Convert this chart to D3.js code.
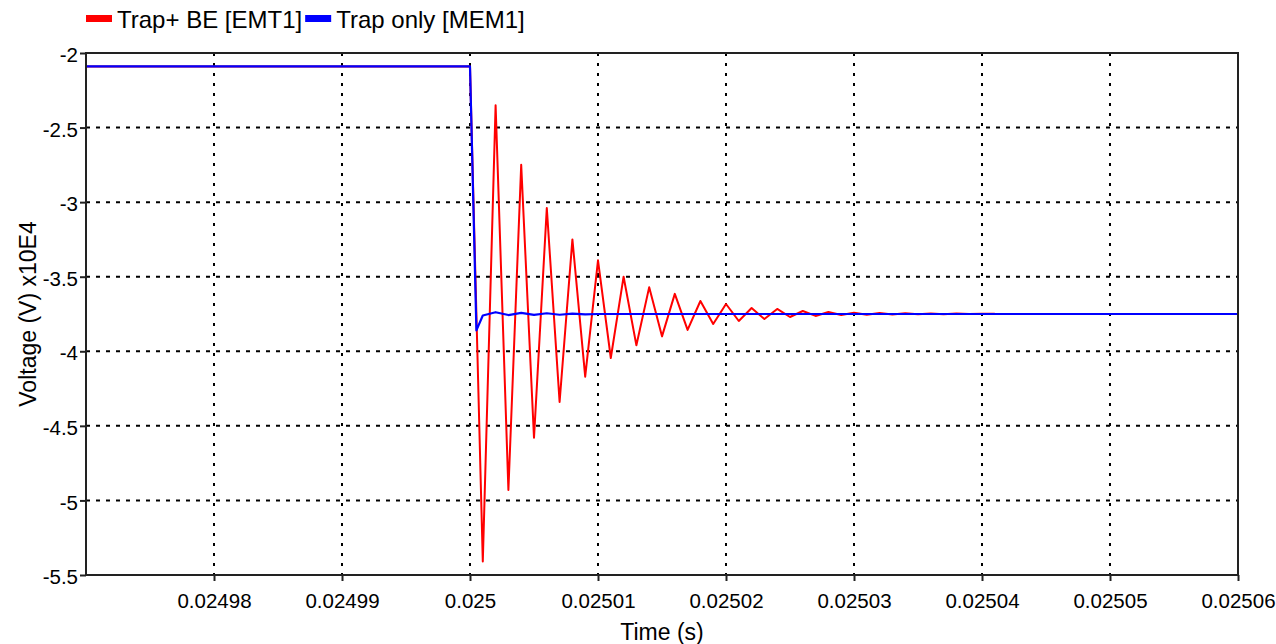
<!DOCTYPE html>
<html>
<head>
<meta charset="utf-8">
<script src="https://cdn.jsdelivr.net/npm/d3@7"></script>
<style>
  body { margin: 0; background: #fff; }
  svg { display: block; font-family: "Liberation Sans", Arial, sans-serif; }
</style>
</head>
<body>
<script>
/* CONSTANTS */
const WIDTH = 1276;
const HEIGHT = 644;
const margin = {top: 53, right: 38, bottom: 69, left: 86};

/* DATA (time in s, voltage in x10E4 V) */
const xTicks = [0.02498, 0.02499, 0.025, 0.02501, 0.02502, 0.02503, 0.02504, 0.02505, 0.02506];
const xTickLabels = ["0.02498", "0.02499", "0.025", "0.02501", "0.02502", "0.02503", "0.02504", "0.02505", "0.02506"];
const yTicks = [-2, -2.5, -3, -3.5, -4, -4.5, -5, -5.5];

const seriesNames = ["Trap+ BE [EMT1]", "Trap only [MEM1]"];
const seriesColors = ["#ff0000", "#0000ff"];

const redTime = [0.02497, 0.025,
  0.025001, 0.025002, 0.025003, 0.025004, 0.025005, 0.025006, 0.025007, 0.025008, 0.025009, 0.02501,
  0.025011, 0.025012, 0.025013, 0.025014, 0.025015, 0.025016, 0.025017, 0.025018, 0.025019, 0.02502,
  0.025021, 0.025022, 0.025023, 0.025024, 0.025025, 0.025026, 0.025027, 0.025028, 0.025029, 0.02503,
  0.025031, 0.025032, 0.025033, 0.025034, 0.025035, 0.025036, 0.025037, 0.025038, 0.025039, 0.02504,
  0.025041];
const redVolt = [-2.09, -2.09,
  -5.41, -2.35, -4.93, -2.75, -4.58, -3.04, -4.34, -3.25, -4.17, -3.39,
  -4.045, -3.50, -3.96, -3.57, -3.90, -3.615, -3.857, -3.663, -3.817, -3.683,
  -3.797, -3.710, -3.784, -3.716, -3.770, -3.730, -3.763, -3.737, -3.757, -3.741,
  -3.755, -3.743, -3.753, -3.745, -3.752, -3.746, -3.751, -3.747, -3.750, -3.748,
  -3.749];

const blueTime = [0.02497, 0.025, 0.0250005, 0.025001, 0.025002, 0.025003, 0.025004, 0.025005,
  0.025006, 0.025007, 0.025008, 0.025009, 0.02501, 0.02506];
const blueVolt = [-2.09, -2.09, -3.86, -3.76, -3.738, -3.757, -3.743, -3.756,
  -3.745, -3.755, -3.747, -3.752, -3.75, -3.75];

/* D3 */
const svg = d3.select("body")
    .append("svg")
    .attr("width", WIDTH)
    .attr("height", HEIGHT);

const x = d3.scaleLinear()
    .domain([0.02497, 0.02506])
    .range([margin.left, WIDTH - margin.right]);

const y = d3.scaleLinear()
    .domain([-5.5, -2])
    .range([HEIGHT - margin.bottom, margin.top]);

// grid
const grid = svg.append("g");
grid.selectAll("line.vg")
    .data(xTicks.slice(0, -1))
    .enter()
    .append("line")
    .attr("class", "vg")
    .attr("x1", d => x(d)).attr("x2", d => x(d))
    .attr("y1", margin.top).attr("y2", HEIGHT - margin.bottom)
    .attr("stroke", "#000")
    .attr("stroke-width", 2)
    .attr("stroke-dasharray", "3,7");

grid.selectAll("line.hg")
    .data(yTicks.slice(1, -1))
    .enter()
    .append("line")
    .attr("class", "hg")
    .attr("x1", margin.left).attr("x2", WIDTH - margin.right)
    .attr("y1", d => y(d)).attr("y2", d => y(d))
    .attr("stroke", "#000")
    .attr("stroke-width", 2)
    .attr("stroke-dasharray", "4,6");

// curves
const line = d3.line()
    .x(d => x(d[0]))
    .y(d => y(d[1]));

svg.append("path")
    .datum(redTime.map((t, i) => [t, redVolt[i]]))
    .attr("fill", "none")
    .attr("stroke", seriesColors[0])
    .attr("stroke-width", 2)
    .attr("stroke-linejoin", "round")
    .attr("d", line);

svg.append("path")
    .datum(blueTime.map((t, i) => [t, blueVolt[i]]))
    .attr("fill", "none")
    .attr("stroke", seriesColors[1])
    .attr("stroke-width", 2.2)
    .attr("stroke-linejoin", "round")
    .attr("d", line);

// frame
svg.append("rect")
    .attr("x", margin.left)
    .attr("y", margin.top)
    .attr("width", WIDTH - margin.left - margin.right)
    .attr("height", HEIGHT - margin.top - margin.bottom)
    .attr("fill", "none")
    .attr("stroke", "#222")
    .attr("stroke-width", 2);

// axes
const xAxis = svg.append("g")
    .attr("transform", `translate(0,${HEIGHT - margin.bottom})`)
    .call(d3.axisBottom(x)
        .tickValues(xTicks)
        .tickSize(6)
        .tickPadding(12)
        .tickFormat((d, i) => xTickLabels[i]));

const yAxis = svg.append("g")
    .attr("transform", `translate(${margin.left},0)`)
    .call(d3.axisLeft(y)
        .tickValues(yTicks)
        .tickSize(6)
        .tickPadding(2)
        .tickFormat(d => String(d)));

[xAxis, yAxis].forEach(a => {
    a.select(".domain").remove();
    a.selectAll(".tick line").attr("stroke", "#222").attr("stroke-width", 2);
    a.selectAll(".tick text")
        .attr("fill", "#000")
        .style("font-size", "20.5px")
        .style("font-family", "'Liberation Sans', Arial, sans-serif");
});
yAxis.selectAll(".tick text").attr("dy", "0.42em");

// axis titles
svg.append("text")
    .attr("x", (margin.left + WIDTH - margin.right) / 2)
    .attr("y", 640)
    .attr("text-anchor", "middle")
    .style("font-size", "23px")
    .text("Time (s)");

svg.append("text")
    .attr("transform", `translate(36,${(margin.top + HEIGHT - margin.bottom) / 2}) rotate(-90)`)
    .attr("text-anchor", "middle")
    .style("font-size", "23px")
    .text("Voltage (V) x10E4");

// legend
const legend = svg.append("g");
let lx = 86;
seriesNames.forEach((name, i) => {
    legend.append("rect")
        .attr("x", lx)
        .attr("y", 15)
        .attr("width", 26)
        .attr("height", 7)
        .attr("fill", seriesColors[i]);
    const t = legend.append("text")
        .attr("x", lx + 31)
        .attr("y", 28)
        .style("font-size", "24px")
        .text(name);
    lx += 31 + t.node().getComputedTextLength() + 3;
});
</script>
</body>
</html>
